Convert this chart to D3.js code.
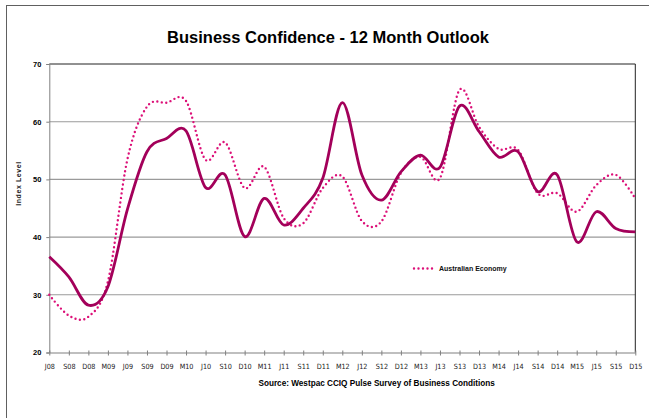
<!DOCTYPE html>
<html>
<head>
<meta charset="utf-8">
<script src="https://cdn.jsdelivr.net/npm/d3@7"></script>
<style>
  html, body { margin: 0; padding: 0; background: #fff; }
  svg { display: block; }
</style>
</head>
<body>
<svg id="chart" width="649" height="418"></svg>
<script>
// Quarterly survey periods, June 2008 to December 2015
const quarters = ["J08","S08","D08","M09","J09","S09","D09","M10","J10","S10","D10",
  "M11","J11","S11","D11","M12","J12","S12","D12","M13","J13","S13","D13","M14",
  "J14","S14","D14","M15","J15","S15","D15"];

// Business confidence index (solid line)
const businessIndex = [36.6, 33.1, 28.2, 31.4, 44.8, 54.8, 57.1, 58.4, 48.6, 50.8, 40.1,
  46.7, 42.1, 45.0, 50.2, 63.3, 50.8, 46.4, 51.3, 54.2, 52.1, 62.7, 58.3, 53.9,
  54.8, 47.9, 50.8, 39.2, 44.4, 41.5, 40.9];

// Australian economy outlook (dotted line)
const economyIndex = [30.0, 26.4, 26.2, 32.3, 53.5, 62.6, 63.3, 63.6, 53.4, 56.4, 48.5,
  52.2, 43.3, 42.4, 48.5, 50.5, 42.8, 42.7, 51.1, 53.9, 50.2, 65.5, 59.1, 55.3,
  55.1, 47.6, 47.6, 44.4, 49.0, 50.8, 46.7];

const yTicks = [20, 30, 40, 50, 60, 70];

const titleText = "Business Confidence - 12 Month Outlook";
const yTitle = "Index Level";
const legendLabel = "Australian Economy";
const sourceText = "Source: Westpac CCIQ Pulse Survey of Business Conditions";

const svg = d3.select("#chart");
const plot = { left: 49.3, right: 635.3, top: 64, bottom: 352.5 };

const x = d3.scalePoint().domain(quarters).range([plot.left, plot.right]);
const y = d3.scaleLinear().domain([20, 70]).range([plot.bottom, plot.top]);

const boldFont = "'Liberation Sans', Arial, sans-serif";

// outer frame
svg.append("rect")
  .attr("x", 6.5).attr("y", 5.5)
  .attr("width", 700).attr("height", 500)
  .attr("fill", "none").attr("stroke", "#606060").attr("stroke-width", 1);

// title
svg.append("text")
  .attr("x", 328).attr("y", 42.5)
  .attr("text-anchor", "middle")
  .attr("font-family", boldFont).attr("font-weight", "bold")
  .attr("font-size", 16.5).attr("fill", "#000")
  .text(titleText);

// horizontal gridlines
svg.append("g")
  .selectAll("line")
  .data(yTicks.filter(d => d > 20 && d < 70))
  .join("line")
  .attr("x1", plot.left).attr("x2", plot.right)
  .attr("y1", d => y(d)).attr("y2", d => y(d))
  .attr("stroke", "#9a9a9a").attr("stroke-width", 1.1);

// plot border: top and right edges
svg.append("path")
  .attr("d", `M${plot.left},${plot.top}H${plot.right}V${plot.bottom}`)
  .attr("fill", "none").attr("stroke", "#222").attr("stroke-width", 1);

// y axis
const yAxis = d3.axisLeft(y).tickValues(yTicks).tickSize(3).tickPadding(5);
const gy = svg.append("g").attr("transform", `translate(${plot.left},0)`).call(yAxis);
gy.select(".domain").attr("stroke", "#808080");
gy.selectAll(".tick line").attr("stroke", "#808080");
gy.selectAll(".tick text")
  .attr("font-family", boldFont).attr("font-weight", "bold")
  .attr("font-size", 7.5).attr("fill", "#000");

// x axis with crossing tick marks
const xAxis = d3.axisBottom(x).tickSizeInner(3).tickSizeOuter(0).tickPadding(8);
const gx = svg.append("g").attr("transform", `translate(0,${plot.bottom})`).call(xAxis);
gx.select(".domain").attr("stroke", "#808080").attr("stroke-width", 1.2);
gx.selectAll(".tick line").attr("y1", -2).attr("stroke", "#808080");
gx.selectAll(".tick text")
  .attr("font-family", "'Liberation Sans Narrow', 'Arial Narrow', 'DejaVu Sans Condensed', sans-serif")
  .attr("font-size", 7.2).attr("fill", "#222");

// y axis title
svg.append("text")
  .attr("transform", "translate(20.5,183.5) rotate(-90)")
  .attr("text-anchor", "middle")
  .attr("font-family", boldFont).attr("font-weight", "bold")
  .attr("font-size", 7).attr("letter-spacing", 0.6).attr("fill", "#222")
  .text(yTitle);

const line = d3.line()
  .x((d, i) => x(quarters[i]))
  .y(d => y(d))
  .curve(d3.curveCardinal.tension(0));

// Australian economy series (dotted)
svg.append("path")
  .datum(economyIndex)
  .attr("d", line)
  .attr("fill", "none")
  .attr("stroke", "#dc1078").attr("stroke-width", 2.4)
  .attr("stroke-linecap", "round")
  .attr("stroke-dasharray", "0 4.5");

// business confidence series (solid)
svg.append("path")
  .datum(businessIndex)
  .attr("d", line)
  .attr("fill", "none")
  .attr("stroke", "#a3005a").attr("stroke-width", 2.8)
  .attr("stroke-linejoin", "round");

// legend
const legend = svg.append("g").attr("transform", "translate(414,268.5)");
legend.append("line")
  .attr("x1", 0).attr("x2", 21).attr("y1", 0).attr("y2", 0)
  .attr("stroke", "#dc1078").attr("stroke-width", 2.4)
  .attr("stroke-linecap", "round").attr("stroke-dasharray", "0 4.5");
legend.append("text")
  .attr("x", 25).attr("y", 2.5)
  .attr("font-family", boldFont).attr("font-weight", "bold")
  .attr("font-size", 7).attr("fill", "#111")
  .text(legendLabel);

// source note
svg.append("text")
  .attr("x", 376.7).attr("y", 385.5)
  .attr("text-anchor", "middle")
  .attr("font-family", boldFont).attr("font-weight", "bold")
  .attr("font-size", 8.2).attr("fill", "#000")
  .text(sourceText);
</script>
</body>
</html>
